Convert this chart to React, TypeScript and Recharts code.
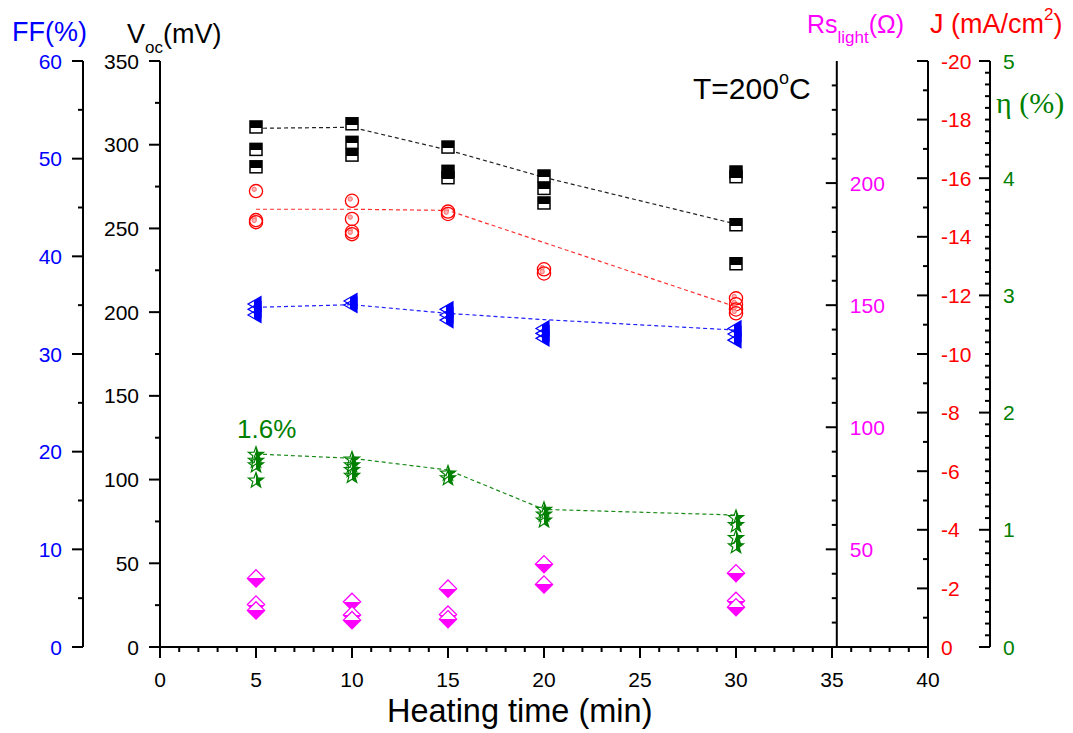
import React from 'react';
import { ComposedChart, Scatter, XAxis, YAxis, ReferenceLine } from 'recharts';

// --- DATA ---
const times = [5, 10, 15, 20, 30];

// Voc (mV), left black axis
const vocRuns = [
  [310.6, 297.2, 286.8],
  [312.5, 301.4, 293.8],
  [298.6, 284.1, 280.3],
  [281.3, 273.9, 265.2],
  [283.7, 280.9, 252.2, 228.9],
];
const vocTrend = [309.8, 310.4, 296.8, 280.5, 252.6];

// J (mA/cm2), right red axis
const jRuns = [
  [-15.56, -14.57, -14.5],
  [-15.23, -14.61, -14.17, -14.09],
  [-14.86, -14.78],
  [-12.89, -12.75],
  [-11.9, -11.7, -11.52, -11.39],
];
const jTrendTimes = [5, 10, 15, 30];
const jTrend = [-14.94, -14.94, -14.9, -11.61];

// FF (%), left blue axis
const ffRuns = [
  [35.11, 34.57, 33.99],
  [35.42, 35.01],
  [34.57, 33.99, 33.47],
  [32.62, 32.11, 31.6],
  [32.62, 32.04, 31.42],
];
const ffTrend = [34.78, 35.05, 34.16, 33.52, 32.45];

// efficiency (%), right green axis
const etaRuns = [
  [1.64, 1.59, 1.55, 1.42],
  [1.6, 1.55, 1.51, 1.46],
  [1.48, 1.44],
  [1.17, 1.13, 1.08],
  [1.1, 1.04, 0.93, 0.86],
];
const etaTrend = [1.647, 1.61, 1.51, 1.174, 1.126];

// Rs light (ohm), inner magenta axis
const rsRuns = [
  [38.1, 27.4, 25.0],
  [28.5, 23.1, 21.0],
  [33.9, 23.3, 21.4],
  [43.9, 35.6],
  [40.2, 28.9, 26.3],
];

// --- AXIS TICKS ---
const steps = (from: number, to: number, step: number) =>
  Array.from({ length: Math.round((to - from) / step) + 1 }, (_, i) => +(from + i * step).toFixed(3));

const xTicks = steps(0, 40, 1);
const vocTicks = steps(0, 350, 25);
const ffTicks = steps(0, 60, 5);
const jTicks = steps(-20, 0, 1);
const etaTicks = steps(0, 5, 0.1);
const rsTicks = steps(10, 240, 10);

// --- LAYOUT & STYLE ---
const W = 1073;
const H = 733;
const PLOT_LEFT = 160;
const PLOT_RIGHT = 928;
const RS_LINE_AT = 35.25;
const RS_X = PLOT_LEFT + (RS_LINE_AT / 40) * (PLOT_RIGHT - PLOT_LEFT);
const FONT = '"Liberation Sans", Arial, sans-serif';
const SERIF = '"Liberation Serif", "Times New Roman", serif';

// axis ids sort innermost first
const VOC = 'y1voc';
const FF = 'y2ff';
const J = 'y1j';
const ETA = 'y2eta';
const RS = 'y3rs';

const C = {
  black: '#000000',
  red: '#ff0000',
  blue: '#0000ff',
  green: '#008000',
  magenta: '#ff00ff',
};

const toPoints = (runs: number[][]) =>
  runs.flatMap((vals, i) => vals.map((y) => ({ x: times[i], y })));
const toLine = (xs: number[], ys: number[]) => xs.map((x, i) => ({ x, y: ys[i] }));

const isMajor = (v: number, step: number) => Math.abs(v / step - Math.round(v / step)) < 1e-6;

// --- TICK RENDERERS ---
const leftTick = (step: number, color: string) => (props: any) => {
  const { x, y, payload } = props;
  const v = payload.value;
  const major = isMajor(v, step);
  const len = major ? 11 : 5;
  return (
    <g>
      <line x1={x - len} x2={x} y1={y} y2={y} stroke="#000" strokeWidth={2} />
      {major && (
        <text x={x - 21} y={y} dy="0.36em" textAnchor="end" fill={color} fontSize={21} fontFamily={FONT}>
          {v}
        </text>
      )}
    </g>
  );
};

const rightTick = (step: number, color: string, fixedX?: number) => (props: any) => {
  const { y, payload } = props;
  const x = fixedX ?? props.x;
  const v = payload.value;
  const major = isMajor(v, step);
  const len = major ? 11 : 5;
  return (
    <g>
      <line x1={x - len} x2={x} y1={y} y2={y} stroke="#000" strokeWidth={2} />
      {major && (
        <text x={x + 13} y={y} dy="0.36em" textAnchor="start" fill={color} fontSize={21} fontFamily={FONT}>
          {v}
        </text>
      )}
    </g>
  );
};

const bottomTick = (props: any) => {
  const { x, y, payload } = props;
  const v = payload.value;
  const major = isMajor(v, 5);
  return (
    <g>
      <line x1={x} x2={x} y1={y} y2={y + (major ? 11 : 5)} stroke="#000" strokeWidth={2} />
      {major && (
        <text x={x} y={y + 40} textAnchor="middle" fill="#000" fontSize={21} fontFamily={FONT}>
          {v}
        </text>
      )}
    </g>
  );
};

// --- MARKERS ---
const HalfSquare = ({ cx, cy }: any) => (
  <rect x={cx - 6} y={cy - 6} width={12} height={12} fill="url(#gSquare)" stroke="#000" strokeWidth={1.5} />
);

const RingCircle = ({ cx, cy }: any) => (
  <g>
    <circle cx={cx} cy={cy} r={6.6} fill="none" stroke={C.red} strokeWidth={1.3} />
    <circle cx={cx - 1.8} cy={cy - 1.8} r={2.2} fill="#ffb3b3" stroke="#ff7070" strokeWidth={1} />
  </g>
);

const LeftTriangle = ({ cx, cy }: any) => (
  <polygon
    points={`${cx - 8},${cy} ${cx + 5},${cy - 7.5} ${cx + 5},${cy + 7.5}`}
    fill="url(#gTriangle)"
    stroke={C.blue}
    strokeWidth={1.2}
  />
);

const HalfStar = ({ cx, cy }: any) => {
  const pts: string[] = [];
  for (let i = 0; i < 10; i++) {
    const r = i % 2 === 0 ? 8 : 3.3;
    const a = -Math.PI / 2 + (i * Math.PI) / 5;
    pts.push(`${cx + r * Math.cos(a)},${cy + r * Math.sin(a)}`);
  }
  return <polygon points={pts.join(' ')} fill="url(#gStar)" stroke={C.green} strokeWidth={1.2} />;
};

const HalfDiamond = ({ cx, cy }: any) => (
  <polygon
    points={`${cx},${cy - 8.6} ${cx + 8.6},${cy} ${cx},${cy + 8.6} ${cx - 8.6},${cy}`}
    fill="url(#gDiamond)"
    stroke={C.magenta}
    strokeWidth={1.3}
  />
);

const NoShape = () => <g />;

const trendLine = (color: string) => ({ stroke: color, strokeWidth: 1.2, strokeDasharray: '4 3' });

export default function App() {
  return (
    <div style={{ position: 'absolute', left: 0, top: 0, width: W, height: H, background: '#fff' }}>
      <svg width={0} height={0} style={{ position: 'absolute' }}>
        <defs>
          <linearGradient id="gSquare" x1="0" y1="0" x2="0" y2="1">
            <stop offset="0.58" stopColor="#000" />
            <stop offset="0.58" stopColor="#fff" />
          </linearGradient>
          <linearGradient id="gTriangle" x1="0" y1="0" x2="1" y2="0">
            <stop offset="0.5" stopColor={C.blue} stopOpacity={0} />
            <stop offset="0.5" stopColor={C.blue} stopOpacity={1} />
          </linearGradient>
          <linearGradient id="gStar" x1="0" y1="0" x2="1" y2="0">
            <stop offset="0.5" stopColor={C.green} stopOpacity={0} />
            <stop offset="0.5" stopColor={C.green} stopOpacity={1} />
          </linearGradient>
          <linearGradient id="gDiamond" x1="0" y1="0" x2="0" y2="1">
            <stop offset="0.5" stopColor="#fff" />
            <stop offset="0.5" stopColor={C.magenta} />
          </linearGradient>
        </defs>
      </svg>

      <ComposedChart width={W} height={H} margin={{ top: 61, right: 0, bottom: 0, left: 0 }}>
        <XAxis
          dataKey="x"
          type="number"
          domain={[0, 40]}
          ticks={xTicks}
          interval={0}
          height={86}
          tickSize={0}
          tickMargin={0}
          tickLine={false}
          axisLine={{ stroke: '#000', strokeWidth: 2 }}
          tick={bottomTick}
        />
        <XAxis
          xAxisId="top"
          dataKey="x"
          type="number"
          orientation="top"
          domain={[0, 40]}
          height={0}
          tick={false}
          tickLine={false}
          axisLine={{ stroke: '#000', strokeWidth: 2 }}
        />
        <YAxis
          yAxisId={VOC}
          dataKey="y"
          type="number"
          orientation="left"
          domain={[0, 350]}
          ticks={vocTicks}
          interval={0}
          width={77}
          tickSize={0}
          tickMargin={0}
          tickLine={false}
          axisLine={{ stroke: '#000', strokeWidth: 2 }}
          tick={leftTick(50, C.black)}
        />
        <YAxis
          yAxisId={FF}
          dataKey="y"
          type="number"
          orientation="left"
          domain={[0, 60]}
          ticks={ffTicks}
          interval={0}
          width={83}
          tickSize={0}
          tickMargin={0}
          tickLine={false}
          axisLine={{ stroke: '#000', strokeWidth: 2 }}
          tick={leftTick(10, C.blue)}
        />
        <YAxis
          yAxisId={J}
          dataKey="y"
          type="number"
          orientation="right"
          domain={[-20, 0]}
          reversed
          ticks={jTicks}
          interval={0}
          width={62}
          tickSize={0}
          tickMargin={0}
          tickLine={false}
          axisLine={{ stroke: '#000', strokeWidth: 2 }}
          tick={rightTick(2, C.red)}
        />
        <YAxis
          yAxisId={ETA}
          dataKey="y"
          type="number"
          orientation="right"
          domain={[0, 5]}
          ticks={etaTicks}
          interval={0}
          width={82}
          tickSize={0}
          tickMargin={0}
          tickLine={false}
          axisLine={{ stroke: '#000', strokeWidth: 2 }}
          tick={rightTick(1, C.green)}
        />
        <YAxis
          yAxisId={RS}
          dataKey="y"
          type="number"
          orientation="right"
          domain={[10, 250]}
          ticks={rsTicks}
          interval={0}
          width={1}
          tickSize={0}
          tickMargin={0}
          tickLine={false}
          axisLine={false}
          tick={rightTick(50, C.magenta, RS_X)}
        />

        <ReferenceLine x={RS_LINE_AT} yAxisId={VOC} stroke="#000" strokeWidth={2} />

        <Scatter data={toLine(times, vocTrend)} yAxisId={VOC} line={trendLine('#222')} shape={NoShape} isAnimationActive={false} />
        <Scatter data={toLine(jTrendTimes, jTrend)} yAxisId={J} line={trendLine('#ff3030')} shape={NoShape} isAnimationActive={false} />
        <Scatter data={toLine(times, ffTrend)} yAxisId={FF} line={trendLine('#2020ff')} shape={NoShape} isAnimationActive={false} />
        <Scatter data={toLine(times, etaTrend)} yAxisId={ETA} line={trendLine('#1a8a1a')} shape={NoShape} isAnimationActive={false} />

        <Scatter data={toPoints(vocRuns)} yAxisId={VOC} shape={HalfSquare} isAnimationActive={false} />
        <Scatter data={toPoints(jRuns)} yAxisId={J} shape={RingCircle} isAnimationActive={false} />
        <Scatter data={toPoints(ffRuns)} yAxisId={FF} shape={LeftTriangle} isAnimationActive={false} />
        <Scatter data={toPoints(etaRuns)} yAxisId={ETA} shape={HalfStar} isAnimationActive={false} />
        <Scatter data={toPoints(rsRuns)} yAxisId={RS} shape={HalfDiamond} isAnimationActive={false} />
      </ComposedChart>

      <svg width={W} height={H} style={{ position: 'absolute', left: 0, top: 0, pointerEvents: 'none' }}>
        <text x={12} y={41} fill={C.blue} fontSize={27} fontFamily={FONT}>FF(%)</text>
        <text x={127} y={43} fill={C.black} fontSize={27} fontFamily={FONT}>
          V<tspan dy={10} fontSize={17}>oc</tspan>
          <tspan dy={-10}>(mV)</tspan>
        </text>
        <text x={807} y={33} fill={C.magenta} fontSize={25} fontFamily={FONT}>
          Rs<tspan dy={10} fontSize={17}>light</tspan>
          <tspan dy={-10}>(Ω)</tspan>
        </text>
        <text x={930} y={33} fill={C.red} fontSize={27} fontFamily={FONT}>
          J (mA/cm<tspan dy={-13} fontSize={17}>2</tspan>
          <tspan dy={13}>)</tspan>
        </text>
        <text x={996} y={113} fill={C.green} fontSize={30} fontFamily={SERIF}>η (%)</text>
        <text x={693} y={99} fill={C.black} fontSize={30} fontFamily={FONT}>
          T=200<tspan dy={-15} fontSize={18}>o</tspan>
          <tspan dy={15}>C</tspan>
        </text>
        <text x={237} y={438} fill={C.green} fontSize={26} fontFamily={FONT}>1.6%</text>
        <text x={387} y={722} fill={C.black} fontSize={32.5} fontFamily={FONT}>Heating time (min)</text>
      </svg>
    </div>
  );
}
